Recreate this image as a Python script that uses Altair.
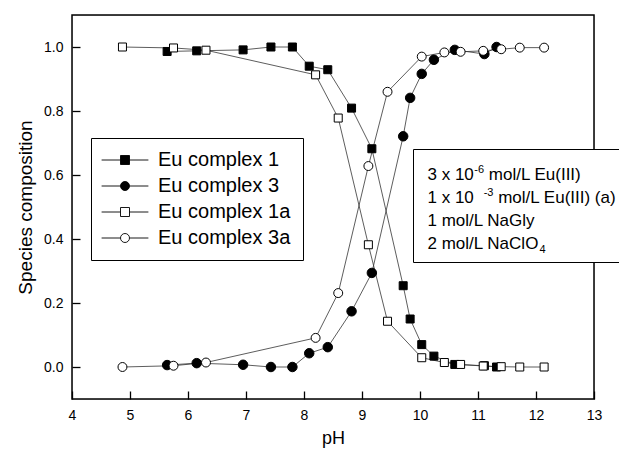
import altair as alt
import pandas as pd

# ---------------- data ----------------
ph_13 = [5.64, 6.15, 6.95, 7.43, 7.80, 8.09, 8.41, 8.82, 9.17, 9.71, 9.83, 10.03, 10.24, 10.60, 11.11, 11.32]
eu1 = [0.986, 0.988, 0.991, 1.0, 1.0, 0.940, 0.929, 0.809, 0.682, 0.254, 0.150, 0.070, 0.034, 0.008, 0.004, 0.0]
eu3 = [0.006, 0.012, 0.007, 0.0, 0.0, 0.043, 0.062, 0.174, 0.294, 0.721, 0.841, 0.916, 0.960, 0.991, 0.978, 1.0]

ph_a = [4.87, 5.75, 6.31, 8.20, 8.59, 9.11, 9.44, 10.03, 10.42, 10.70, 11.09, 11.40, 11.72, 12.14]
eu1a = [1.0, 0.997, 0.990, 0.913, 0.778, 0.382, 0.143, 0.029, 0.014, 0.008, 0.003, 0.001, 0.0, 0.0]
eu3a = [0.0, 0.004, 0.014, 0.091, 0.231, 0.628, 0.860, 0.970, 0.983, 0.985, 0.988, 0.993, 0.998, 0.998]

names = ["Eu complex 1", "Eu complex 3", "Eu complex 1a", "Eu complex 3a"]
x_major = [4, 5, 6, 7, 8, 9, 10, 11, 12, 13]
y_major = [0.0, 0.2, 0.4, 0.6, 0.8, 1.0]

note_lines = [
    ("3 x 10", "-6", "mol/L Eu(III)"),
    ("1 x 10", "-3", "mol/L Eu(III) (a)"),
    ("1 mol/L NaGly", "", ""),
    ("2 mol/L NaClO", "4", ""),
]

# ---------------- layout ----------------
W, H = 522, 384
X0, X1 = 4, 13
Y0, Y1 = -0.1, 1.1
FONT = "Liberation Sans"
TICK = 8
xs = alt.Scale(domain=[X0, X1], nice=False, zero=False)
ys = alt.Scale(domain=[Y0, Y1], nice=False, zero=False)

# ticks point inward: the axis is pulled into the plot by the tick length
xaxis = alt.Axis(values=x_major, format="d", ticks=True, tickSize=TICK, tickWidth=1.3,
                 tickColor="black", offset=-TICK, domain=False, grid=False,
                 labelFont=FONT, labelFontSize=14, labelColor="black", labelPadding=9,
                 labelFlush=False, labelOverlap=False,
                 title="pH", titleFont=FONT, titleFontSize=18, titleFontWeight="normal",
                 titleColor="black", titlePadding=7)
yaxis = alt.Axis(values=y_major, format=".1f", ticks=True, tickSize=TICK, tickWidth=1.3,
                 tickColor="black", offset=-TICK, domain=False, grid=False,
                 labelFont=FONT, labelFontSize=14, labelColor="black", labelPadding=9,
                 labelFlush=False, labelOverlap=False,
                 title="Species composition", titleFont=FONT, titleFontSize=19,
                 titleFontWeight="normal", titleColor="black", titlePadding=8)


def X(field):
    return alt.X(field, type="quantitative", scale=xs, axis=xaxis)


def Y(field):
    return alt.Y(field, type="quantitative", scale=ys, axis=yaxis)


frames = {
    names[0]: pd.DataFrame({"pH": ph_13, "v": eu1}),
    names[1]: pd.DataFrame({"pH": ph_13, "v": eu3}),
    names[2]: pd.DataFrame({"pH": ph_a, "v": eu1a}),
    names[3]: pd.DataFrame({"pH": ph_a, "v": eu3a}),
}
marker = {
    names[0]: ("square", "black", 64),
    names[1]: ("circle", "black", 90),
    names[2]: ("square", "white", 64),
    names[3]: ("circle", "white", 80),
}

one = pd.DataFrame({"k": [0]})

# plot frame (drawn as a layer so the note box can cover it)
frame = alt.Chart(one).mark_rect(fill="transparent", stroke="black", strokeWidth=1.5).encode(
    x=alt.value(0), x2=alt.value(W), y=alt.value(0), y2=alt.value(H))

lines = []
points = []
for n in names:
    df = frames[n]
    lines.append(alt.Chart(df).mark_line(color="#333333", strokeWidth=0.8).encode(
        x=X("pH"), y=Y("v"), order=alt.Order("pH:Q")))
    shp, fillc, sz = marker[n]
    points.append(alt.Chart(df).mark_point(shape=shp, filled=True, fill=fillc, stroke="black",
                                           strokeWidth=1, size=sz, opacity=1).encode(
        x=X("pH"), y=Y("v")))

# legend (library legend, symbols drawn as line-marker-line paths)
sq = "M-1,-1H1V1H-1Z"
ci = "M1,0A1,1 0 1,1 -1,0A1,1 0 1,1 1,0Z"
stubs = "M-5.2,0H-1M1,0H5.2"
leg_paths = [stubs + sq, stubs + ci, stubs + sq, stubs + ci]
legend = alt.Legend(title=None, orient="none", legendX=19, legendY=123,
                    fillColor="white", strokeColor="black", padding=12,
                    labelFont=FONT, labelFontSize=20, labelColor="black", labelLimit=400,
                    symbolSize=81, symbolOpacity=1, symbolStrokeColor="black",
                    symbolStrokeWidth=0.9, symbolOffset=12, labelOffset=23,
                    rowPadding=6)
leg_layer = alt.Chart(pd.DataFrame({"series": names})).mark_point(
    filled=True, opacity=0).encode(
    shape=alt.Shape("series:N", scale=alt.Scale(domain=names, range=leg_paths), legend=legend),
    fill=alt.Fill("series:N", scale=alt.Scale(domain=names, range=["black", "black", "white", "white"]),
                  legend=legend),
    stroke=alt.Stroke("series:N", scale=alt.Scale(domain=names, range=["black"] * 4), legend=legend),
)

# annotation box
box = alt.Chart(one).mark_rect(fill="white", stroke="black", strokeWidth=1).encode(
    x=alt.value(341.5), x2=alt.value(W + 30), y=alt.value(134.5), y2=alt.value(247.5))

texts = []
x0 = 355.5
base = [165, 188, 211, 233.5]
main_w = [46.3, 51.0, 0, 111.5]       # width of the first run at 17 px
gap_before_sup = [0.5, 5.2, 0, 0.5]
for (a, s, b), yb, w, g in zip(note_lines, base, main_w, gap_before_sup):
    texts.append(alt.Chart(pd.DataFrame({"t": [a]})).mark_text(
        font=FONT, fontSize=17, align="left", baseline="alphabetic", color="black").encode(
        text="t:N", x=alt.value(x0), y=alt.value(yb)))
    if s:
        sub = (s == "4")
        texts.append(alt.Chart(pd.DataFrame({"t": [s]})).mark_text(
            font=FONT, fontSize=11, align="left", baseline="alphabetic", color="black").encode(
            text="t:N", x=alt.value(x0 + w + g), y=alt.value(yb + (4 if sub else -7))))
    if b:
        texts.append(alt.Chart(pd.DataFrame({"t": [b]})).mark_text(
            font=FONT, fontSize=17, align="left", baseline="alphabetic", color="black").encode(
            text="t:N", x=alt.value(x0 + w + g + 9.8 + 4.7), y=alt.value(yb)))

chart = alt.layer(*lines, *points, frame, leg_layer, box, *texts).properties(
    width=W, height=H,
    autosize=alt.AutoSizeParams(type="none"),
    padding={"left": 72, "top": 15, "right": 25, "bottom": 51},
).configure_view(stroke="transparent").configure(background="white")

chart.save("out.html", embed_options={"renderer": "svg", "actions": False})
